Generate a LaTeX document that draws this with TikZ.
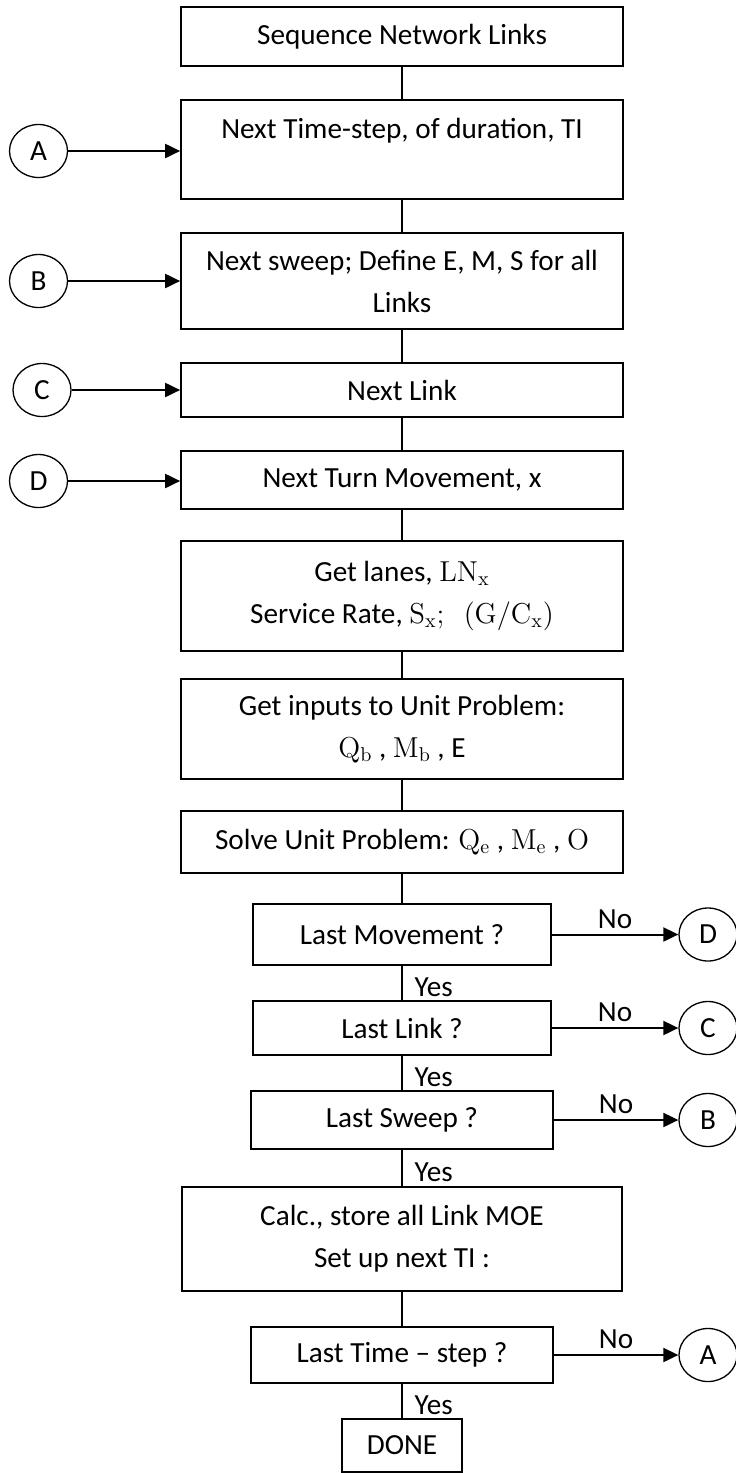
\documentclass[tikz,border=0pt]{standalone}
\usepackage[no-math]{fontspec}
\setmainfont{Carlito}
\usetikzlibrary{arrows.meta,shapes.geometric}
\begin{document}
\begin{tikzpicture}[x=0.5pt,y=-0.5pt,
  font=\fontsize{14.6}{21}\selectfont,
  box/.style={draw, line width=0.85pt, inner sep=0pt, align=center},
  wide/.style={box, minimum width=221pt},
  narrow/.style={box, minimum width=150pt},
  conn/.style={line width=0.65pt},
  arr/.style={line width=1pt, -{Triangle[length=7.5pt,width=7pt]}},
  circ/.style={draw, ellipse, line width=0.65pt, inner sep=0pt, minimum width=29pt, minimum height=26.5pt},
  yeslbl/.style={anchor=west, inner sep=0pt, xshift=6pt, yshift=-2pt},
  nolbl/.style={above, inner sep=2.5pt}]
\useasboundingbox (0,0) rectangle (735,1473);

% main column
\node[wide, minimum height=29.5pt] (b1) at (402,36.5) {Sequence Network Links};
\node[wide, minimum height=49.5pt] (b2) at (402,149.5) {Next Time-step, of duration, TI\\ ~};
\node[wide, minimum height=48pt] (b3) at (402,281) {Next sweep; Define E, M, S for all\\ Links};
\node[wide, minimum height=27pt] (b4) at (402,390) {Next Link};
\node[wide, minimum height=29pt] (b5) at (402,480) {Next Turn Movement, x};
\node[wide, minimum height=55pt] (b6) at (402,596) {Get lanes, $\mathrm{LN}_{\mathrm{x}}$\\ Service Rate, $\mathrm{S}_{\mathrm{x}};\;\ (\mathrm{G}/\mathrm{C}_{\mathrm{x}})$};
\node[wide, minimum height=50pt] (b7) at (402,729) {Get inputs to Unit Problem:\\ $\mathrm{Q}_{\mathrm{b}}$ , $\mathrm{M}_{\mathrm{b}}$ , E};
\node[wide, minimum height=31pt] (b8) at (402,842) {Solve Unit Problem: $\mathrm{Q}_{\mathrm{e}}$ , $\mathrm{M}_{\mathrm{e}}$ , $\mathrm{O}$};
\node[box, minimum width=149pt, minimum height=30.5pt] (d1) at (402,934.5) {Last Movement ?};
\node[box, minimum width=149pt, minimum height=27pt] (d2) at (402,1028) {Last Link ?};
\node[narrow, minimum width=151pt, minimum height=29pt] (d3) at (402,1120) {Last Sweep ?};
\node[box, minimum width=220pt, minimum height=52pt] (b9) at (402,1239) {Calc., store all Link MOE\\ Set up next TI :};
\node[narrow, minimum width=151pt, minimum height=28pt] (d4) at (402,1355) {Last Time – step ?};
\node[box, minimum width=60pt, minimum height=26.5pt] (done) at (402,1445.5) {DONE};

% left connectors
\node[circ] (lA) at (38.5,151) {A};
\node[circ] (lB) at (38.5,281) {B};
\node[circ] (lC) at (42,390) {C};
\node[circ] (lD) at (38.5,481) {D};

% right connectors
\node[circ] (rD) at (708,934.5) {D};
\node[circ] (rC) at (708,1028) {C};
\node[circ] (rB) at (708,1120) {B};
\node[circ] (rA) at (708,1355) {A};

% vertical flow
\draw[conn] (b1.south) -- (b2.north);
\draw[conn] (b2.south) -- (b3.north);
\draw[conn] (b3.south) -- (b4.north);
\draw[conn] (b4.south) -- (b5.north);
\draw[conn] (b5.south) -- (b6.north);
\draw[conn] (b6.south) -- (b7.north);
\draw[conn] (b7.south) -- (b8.north);
\draw[conn] (b8.south) -- (d1.north);
\draw[conn] (d1.south) -- node[yeslbl] {Yes} (d2.north);
\draw[conn] (d2.south) -- node[yeslbl] {Yes} (d3.north);
\draw[conn] (d3.south) -- node[yeslbl] {Yes} (b9.north);
\draw[conn] (b9.south) -- (d4.north);
\draw[conn] (d4.south) -- node[yeslbl] {Yes} (done.north);

% entry arrows
\draw[arr] (lA.east) -- (lA.east -| b2.west);
\draw[arr] (lB.east) -- (lB.east -| b3.west);
\draw[arr] (lC.east) -- (lC.east -| b4.west);
\draw[arr] (lD.east) -- (lD.east -| b5.west);

% "No" exits
\draw[arr] (d1.east) -- node[nolbl] {No} (rD.west);
\draw[arr] (d2.east) -- node[nolbl] {No} (rC.west);
\draw[arr] (d3.east) -- node[nolbl] {No} (rB.west);
\draw[arr] (d4.east) -- node[nolbl] {No} (rA.west);
\end{tikzpicture}
\end{document}
